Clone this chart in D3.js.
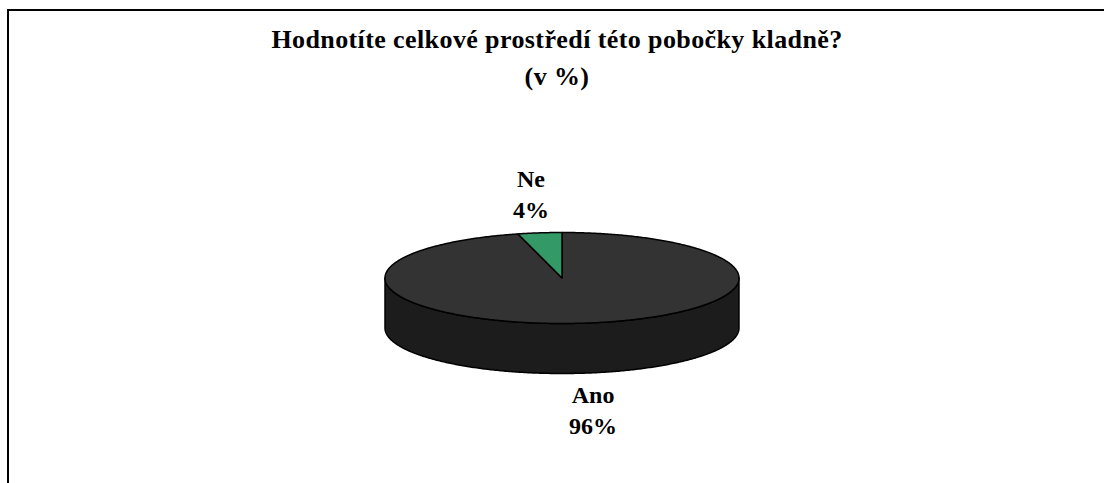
<!DOCTYPE html>
<html>
<head>
<meta charset="utf-8">
<script src="https://cdn.jsdelivr.net/npm/d3@7"></script>
<style>
  html, body { margin: 0; padding: 0; background: #fff; }
  svg { display: block; }
  text { font-family: "Liberation Serif", "Times New Roman", serif; font-weight: bold; fill: #000; }
</style>
</head>
<body>
<svg id="chart" width="1104" height="483"></svg>
<script>
// Survey answers and their shares (percent)
const categories = ["Ano", "Ne"];
const values = [96, 4];
const valueLabels = ["96%", "4%"];
const titleLines = ["Hodnotíte celkové prostředí této pobočky kladně?", "(v %)"];

const topColors = ["#333333", "#339966"];
const sideColors = ["#1c1c1c", "#1f5c3d"];

const W = 1104, H = 483;
const svg = d3.select("#chart");

// Chart area frame (clipped on the right and bottom by the window)
svg.append("rect")
  .attr("x", 8).attr("y", 10)
  .attr("width", 1130).attr("height", 520)
  .attr("fill", "#fff")
  .attr("stroke", "#000").attr("stroke-width", 2);

// Title
const title = svg.append("text")
  .attr("text-anchor", "middle")
  .style("font-size", "26px")
  .style("letter-spacing", "0.4px");
titleLines.forEach((t, i) => {
  title.append("tspan").attr("x", 557).attr("y", 48 + i * 37).text(t);
});

// 3D pie geometry
const cx = 562, cy = 278, rx = 177, ry = 45.5, depth = 50;

const pie = d3.pie().sort(null).value(d => d)(values);

// Map a pie angle (0 = 12 o'clock, clockwise) onto the tilted ellipse
const px = (a, r = 1) => cx + rx * r * Math.sin(a);
const py = (a, r = 1, dy = 0) => cy - ry * r * Math.cos(a) + dy;

function arcPoints(a0, a1, dy) {
  const n = Math.max(2, Math.ceil(Math.abs(a1 - a0) / 0.01));
  return d3.range(n + 1).map(i => {
    const a = a0 + (a1 - a0) * i / n;
    return [px(a), py(a, 1, dy)];
  });
}

const line = d3.line();

// Visible front wall: angles between PI/2 and 3PI/2
const sides = svg.append("g");
pie.forEach((s, i) => {
  const a0 = Math.max(s.startAngle, Math.PI / 2);
  const a1 = Math.min(s.endAngle, 3 * Math.PI / 2);
  if (a1 <= a0) return;
  const topEdge = arcPoints(a0, a1, 0);
  const bottomEdge = arcPoints(a1, a0, depth);
  sides.append("path")
    .attr("d", line(topEdge.concat(bottomEdge)) + "Z")
    .attr("fill", sideColors[i])
    .attr("stroke", "#000").attr("stroke-width", 1.5)
    .attr("stroke-linejoin", "round");
});

// Top faces
const tops = svg.append("g");
pie.forEach((s, i) => {
  const pts = [[cx, cy]].concat(arcPoints(s.startAngle, s.endAngle, 0));
  tops.append("path")
    .attr("d", line(pts) + "Z")
    .attr("fill", topColors[i])
    .attr("stroke", "#000").attr("stroke-width", 1.5)
    .attr("stroke-linejoin", "round");
});

// Labels placed around the pie at each slice's mid angle
const lrx = 248, lry = 84;
const labels = svg.append("g").style("font-size", "24px").attr("text-anchor", "middle");
pie.forEach((s, i) => {
  const a = (s.startAngle + s.endAngle) / 2;
  const x = cx + lrx * Math.sin(a);
  let y = cy - lry * Math.cos(a);
  if (Math.cos(a) < 0) y += depth;
  const t = labels.append("text");
  t.append("tspan").attr("x", x).attr("y", y - 8).text(categories[i]);
  t.append("tspan").attr("x", x).attr("y", y + 23).text(valueLabels[i]);
});
</script>
</body>
</html>
